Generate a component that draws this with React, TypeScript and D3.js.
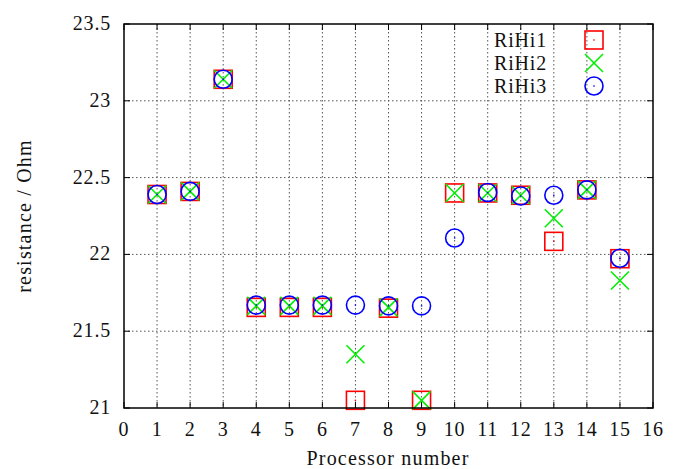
import React from "react";
import * as d3 from "d3";

const processors = [1, 2, 3, 4, 5, 6, 7, 8, 9, 10, 11, 12, 13, 14, 15];
const rihi1 = [22.39, 22.41, 23.14, 21.655, 21.655, 21.655, 21.05, 21.65, 21.05, 22.40, 22.40, 22.385, 22.085, 22.42, 21.972];
const rihi2 = [22.39, 22.41, 23.14, 21.665, 21.665, 21.665, 21.35, 21.655, 21.05, 22.40, 22.40, 22.385, 22.235, 22.42, 21.83];
const rihi3 = [22.39, 22.41, 23.14, 21.67, 21.67, 21.67, 21.67, 21.665, 21.665, 22.107, 22.403, 22.38, 22.385, 22.42, 21.975];
const xTicks = d3.range(0, 17);
const yTicks = [21, 21.5, 22, 22.5, 23, 23.5];
const seriesNames = ["RiHi1", "RiHi2", "RiHi3"];
const seriesColors = ["#ff0000", "#00ee00", "#0000ff"];

const W = 685, H = 469;
const L = 124, R = 653, T = 24, B = 408;
const FONT = "'Liberation Serif', 'DejaVu Serif', serif";
const FS = 20;
const LS = 0.8;

function Marker({ kind, x, y, color }: { kind: number; x: number; y: number; color: string }) {
  const s = 9;
  if (kind === 0) {
    return (
      <g>
        <rect x={x - s} y={y - s} width={2 * s} height={2 * s} fill="none" stroke={color} strokeWidth={1.6} />
        <rect x={x - 0.7} y={y - 0.7} width={1.4} height={1.4} fill={color} />
      </g>
    );
  }
  if (kind === 1) {
    return (
      <g stroke={color} strokeWidth={1.6}>
        <line x1={x - s} y1={y - s} x2={x + s} y2={y + s} />
        <line x1={x - s} y1={y + s} x2={x + s} y2={y - s} />
      </g>
    );
  }
  return (
    <g>
      <circle cx={x} cy={y} r={s} fill="none" stroke={color} strokeWidth={1.6} />
      <rect x={x - 0.7} y={y - 0.7} width={1.4} height={1.4} fill={color} />
    </g>
  );
}

export default function App() {
  const x = d3.scaleLinear().domain([0, 16]).range([L, R]);
  const y = d3.scaleLinear().domain([21, 23.5]).range([B, T]);
  const all = [rihi1, rihi2, rihi3];
  return (
    <svg width={W} height={H} style={{ position: "absolute", left: 0, top: 0, background: "#fff" }} fontFamily={FONT}>
      {xTicks.slice(1, -1).map((t) => (
        <line key={"gx" + t} x1={x(t)} x2={x(t)} y1={T} y2={B} stroke="#555" strokeWidth={1} strokeDasharray="1.5,2.5" />
      ))}
      {yTicks.slice(1, -1).map((t) => (
        <line key={"gy" + t} x1={L} x2={R} y1={y(t)} y2={y(t)} stroke="#555" strokeWidth={1} strokeDasharray="1.5,2.5" />
      ))}
      {xTicks.map((t) => (
        <g key={"tx" + t} stroke="#000" strokeWidth={1}>
          <line x1={x(t)} x2={x(t)} y1={B} y2={B - 6} />
          <line x1={x(t)} x2={x(t)} y1={T} y2={T + 6} />
        </g>
      ))}
      {yTicks.map((t) => (
        <g key={"ty" + t} stroke="#000" strokeWidth={1}>
          <line x1={L} x2={L + 6} y1={y(t)} y2={y(t)} />
          <line x1={R} x2={R - 6} y1={y(t)} y2={y(t)} />
        </g>
      ))}
      {xTicks.map((t) => (
        <text key={"lx" + t} x={x(t)} y={436} textAnchor="middle" fontSize={FS} letterSpacing={LS} fill="#111">{t}</text>
      ))}
      {yTicks.map((t) => (
        <text key={"ly" + t} x={111} y={y(t) + 6} textAnchor="end" fontSize={FS} letterSpacing={LS} fill="#111">{t}</text>
      ))}
      <text x={388} y={465} textAnchor="middle" fontSize={FS} letterSpacing={1.2} fill="#111">Processor number</text>
      <text transform={`translate(31,${(T + B) / 2}) rotate(-90)`} textAnchor="middle" fontSize={FS} letterSpacing={1.2} fill="#111">resistance / Ohm</text>
      {all.map((vals, si) =>
        vals.map((v, i) => (
          <Marker key={si + "-" + i} kind={si} x={x(processors[i])} y={y(v)} color={seriesColors[si]} />
        ))
      )}
      {seriesNames.map((n, i) => (
        <g key={n}>
          <text x={547} y={40 + i * 23 + 7} textAnchor="end" fontSize={FS} letterSpacing={LS} fill="#111">{n}</text>
          <Marker kind={i} x={594} y={40 + i * 23} color={seriesColors[i]} />
        </g>
      ))}
      <rect x={L} y={T} width={R - L} height={B - T} fill="none" stroke="#000" strokeWidth={1.5} />
    </svg>
  );
}
